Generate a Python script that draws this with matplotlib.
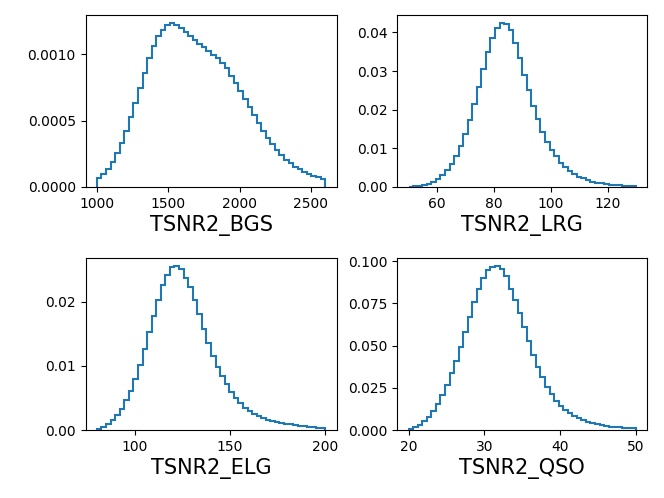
import numpy as np
import matplotlib
matplotlib.use("Agg")
import matplotlib.pyplot as plt

# ---- data (density per bin) ----
labels = ["TSNR2_BGS", "TSNR2_LRG", "TSNR2_ELG", "TSNR2_QSO"]
ranges = [(1000, 2600), (50, 130), (80, 200), (20, 50)]
nbins = 50

xticks = [[1000, 1500, 2000, 2500], [60, 80, 100, 120], [100, 150, 200], [20, 30, 40, 50]]
yticks = [[0.0, 0.0005, 0.0010], [0.0, 0.01, 0.02, 0.03, 0.04], [0.0, 0.01, 0.02],
          [0.0, 0.025, 0.050, 0.075, 0.100]]

bgs = [0.0000655, 0.0000955, 0.000133, 0.000191, 0.000254, 0.000329, 0.000422, 0.000525, 0.000635, 0.000748,
       0.000857, 0.000970, 0.001065, 0.001135, 0.001185, 0.001218, 0.001231, 0.001218, 0.001196, 0.001166,
       0.001135, 0.001110, 0.001080, 0.001053, 0.001025, 0.000995, 0.000970, 0.000932, 0.000894, 0.000839,
       0.000781, 0.000723, 0.000663, 0.000600, 0.000543, 0.000485, 0.000422, 0.000367, 0.000324, 0.000279,
       0.000241, 0.000206, 0.000179, 0.000151, 0.000133, 0.000115, 0.000100, 0.000085, 0.000073, 0.000060]

lrg = [0.00009, 0.0002, 0.0003, 0.0005, 0.0009, 0.0013, 0.0021, 0.0030, 0.0043, 0.0060,
       0.0079, 0.0106, 0.0138, 0.0174, 0.0215, 0.0259, 0.0305, 0.0350, 0.0385, 0.0411,
       0.0423, 0.0421, 0.0405, 0.0373, 0.0333, 0.0290, 0.0251, 0.0209, 0.0175, 0.0143,
       0.0117, 0.0096, 0.0079, 0.0063, 0.0051, 0.0041, 0.0034, 0.0027, 0.0022, 0.0017,
       0.0014, 0.0011, 0.00095, 0.0008, 0.0006, 0.0005, 0.00043, 0.00035, 0.0003, 0.00026]

elg = [0.0001, 0.0004, 0.0010, 0.0016, 0.0024, 0.0033, 0.0046, 0.0060, 0.0079, 0.0101,
       0.0126, 0.0152, 0.0178, 0.0203, 0.0226, 0.0241, 0.0253, 0.0255, 0.0250, 0.0237,
       0.0222, 0.0202, 0.0180, 0.0158, 0.0135, 0.0115, 0.0098, 0.0084, 0.0071, 0.0059,
       0.0050, 0.0042, 0.0035, 0.0030, 0.0025, 0.0022, 0.0019, 0.0016, 0.0014, 0.00125,
       0.00114, 0.0010, 0.00088, 0.00078, 0.00068, 0.00057, 0.00052, 0.00042, 0.00036, 0.00031]

qso = [0.0008, 0.0018, 0.0032, 0.0053, 0.0079, 0.0110, 0.0156, 0.0207, 0.0264, 0.0335,
       0.0406, 0.0493, 0.0582, 0.0667, 0.0755, 0.0836, 0.0903, 0.0945, 0.0966, 0.0970,
       0.0951, 0.0909, 0.0836, 0.0771, 0.0692, 0.0609, 0.0525, 0.0442, 0.0375, 0.0312,
       0.0256, 0.0213, 0.0174, 0.0144, 0.0118, 0.0101, 0.0083, 0.0069, 0.0057, 0.0047,
       0.0039, 0.0034, 0.0028, 0.0024, 0.0020, 0.0018, 0.0016, 0.0014, 0.0012, 0.0010]

series = [bgs, lrg, elg, qso]

# ---- layout ----
W, H = 664, 498
fig = plt.figure(figsize=(W / 100, H / 100), dpi=100)

# axes boxes in pixels: (left, top, right, bottom)
boxes = [(85.5, 15.3, 336.5, 187.0), (397.3, 15.3, 647.3, 187.0),
         (85.5, 258.0, 336.5, 430.0), (397.3, 258.0, 647.3, 430.0)]

for box, lab, rng, vals, xt, yt in zip(boxes, labels, ranges, series, xticks, yticks):
    l, t, r, b = box
    ax = fig.add_axes([l / W, 1 - b / H, (r - l) / W, (b - t) / H])
    edges = np.linspace(rng[0], rng[1], nbins + 1)
    centers = 0.5 * (edges[:-1] + edges[1:])
    ax.hist(centers, bins=edges, weights=vals, histtype="step", color="C0", linewidth=1.5)
    ax.set_xticks(xt)
    ax.set_yticks(yt)
    ax.set_xlabel(lab, fontsize=15, labelpad=3)

fig.savefig("out.png", dpi=100)
